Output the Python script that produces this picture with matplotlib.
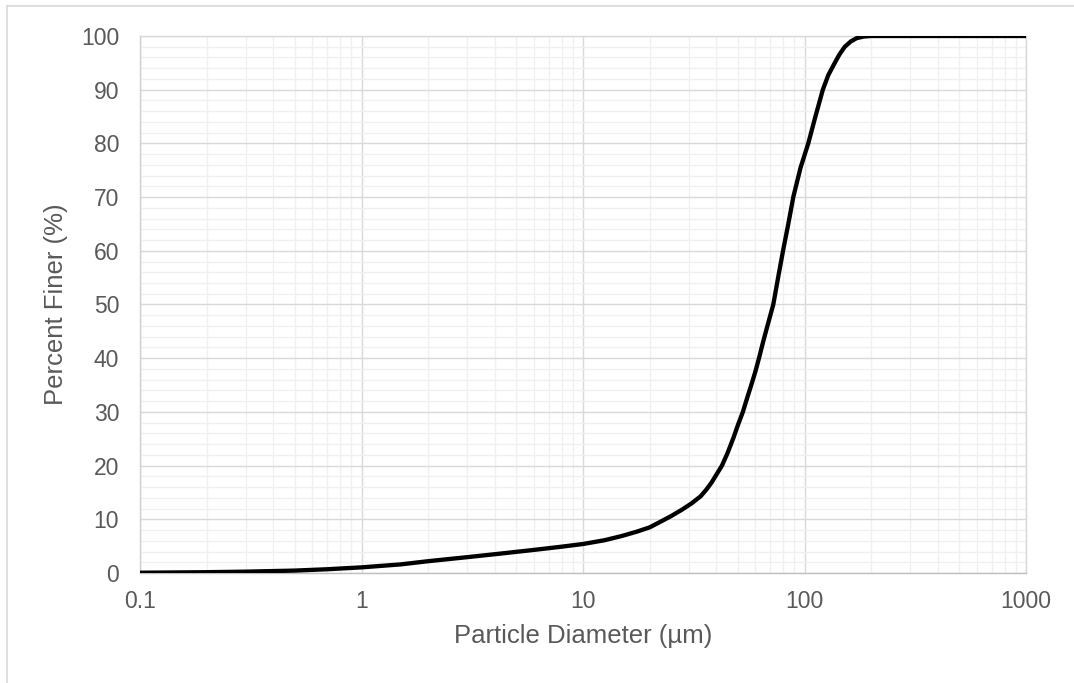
import matplotlib
matplotlib.use("Agg")
import matplotlib.pyplot as plt
from matplotlib.ticker import FixedLocator, NullFormatter, LogLocator
from matplotlib.lines import Line2D

diameter_um = [0.1, 0.2, 0.3, 0.5, 0.7, 1, 1.5, 2, 3, 4, 6, 8, 10, 12.5, 15, 17.5, 20,
               22.5, 25, 28, 31, 34, 36, 38, 40, 42.4, 45, 47.8, 50, 52.7, 55, 57.5,
               60, 62.3, 65, 68, 72.3, 76, 80, 84.5, 89, 96, 104, 112, 121, 128, 137,
               144, 152, 162, 172, 185, 200, 300, 500, 1000]
percent_finer = [0.05, 0.15, 0.25, 0.45, 0.7, 1.05, 1.6, 2.2, 2.95, 3.5, 4.3, 4.9, 5.4,
                 6.1, 6.9, 7.7, 8.5, 9.6, 10.6, 11.8, 13.0, 14.3, 15.5, 16.8, 18.3, 20,
                 22.4, 25.2, 27.5, 30, 32.5, 35, 37.5, 40, 43, 46, 50, 55, 60, 65, 70,
                 75.5, 80, 85, 90, 92.7, 95, 96.6, 98, 99, 99.6, 99.9, 100, 100, 100, 100]
x_ticks = [0.1, 1, 10, 100, 1000]
x_tick_labels = ["0.1", "1", "10", "100", "1000"]
y_ticks = list(range(0, 101, 10))

plt.rcParams['font.family'] = ['Liberation Sans', 'DejaVu Sans']
txt = '#595959'

fig = plt.figure(figsize=(10.74, 6.83), dpi=100)
ax = fig.add_axes([140/1074, 110/683, 886/1074, 537/683])

ax.plot(diameter_um, percent_finer, color='black', lw=3.1, solid_capstyle='butt',
        solid_joinstyle='round', zorder=3)

ax.set_xscale('log')
ax.set_xlim(0.1, 1000)
ax.set_ylim(0, 100)
ax.xaxis.set_major_locator(FixedLocator(x_ticks))
ax.set_xticklabels(x_tick_labels)
ax.xaxis.set_minor_locator(LogLocator(base=10, subs=range(2, 10)))
ax.xaxis.set_minor_formatter(NullFormatter())
ax.yaxis.set_major_locator(FixedLocator(y_ticks))
ax.yaxis.set_minor_locator(FixedLocator(range(0, 101, 2)))

ax.grid(which='minor', color='#F0F0F0', lw=1.0, zorder=0)
ax.grid(which='major', color='#D9D9D9', lw=1.0, zorder=1)
ax.set_axisbelow(True)
for s in ax.spines.values():
    s.set_color('#D9D9D9')
    s.set_linewidth(1.0)
ax.spines['bottom'].set_color('#BFBFBF')
ax.spines['left'].set_color('#D0D0D0')

ax.tick_params(which='both', length=0)
ax.tick_params(axis='y', labelsize=16.5, labelcolor=txt, pad=15)
ax.tick_params(axis='x', labelsize=16.5, labelcolor=txt, pad=12)

ax.set_xlabel('Particle Diameter (µm)', fontsize=18.5, color=txt, labelpad=8)
ax.set_ylabel('Percent Finer (%)', fontsize=18.5, color=txt, labelpad=9)

# outer chart border
fig.add_artist(Line2D([7/1074, 1], [1 - 6/683, 1 - 6/683], transform=fig.transFigure, color='#D9D9D9', lw=1.2))
fig.add_artist(Line2D([7/1074, 7/1074], [0, 1 - 6/683], transform=fig.transFigure, color='#D9D9D9', lw=1.2))

fig.savefig('out.png', dpi=100)
